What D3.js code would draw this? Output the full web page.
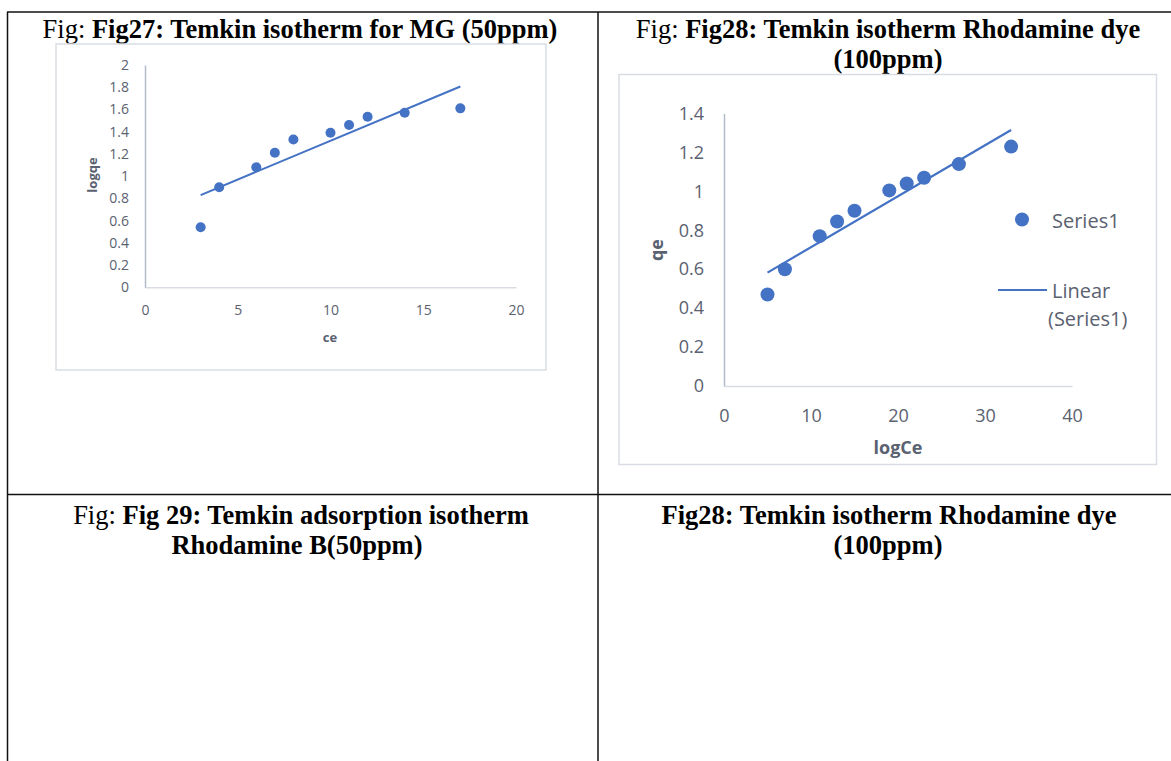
<!DOCTYPE html>
<html>
<head>
<meta charset="utf-8">
<script src="https://cdn.jsdelivr.net/npm/d3@7/dist/d3.min.js"></script>
<style>
  html, body { margin: 0; padding: 0; background: #ffffff; }
  svg { display: block; }
  .cap { font-family: "Liberation Serif", "Times New Roman", serif; font-size: 26.5px; fill: #000; }
  .cap .b { font-weight: bold; }
  .tick text { font-family: "Open Sans", Lato, sans-serif; fill: #5a6170; }
  .atitle { font-family: "Open Sans", Lato, sans-serif; font-weight: bold; fill: #5a6170; }
  .legend { font-family: "Open Sans", Lato, sans-serif; fill: #5a6170; }
</style>
</head>
<body>
<svg id="page" width="1171" height="761"></svg>
<script>
// Fig27: Temkin isotherm for MG (50ppm)
const mgCe = [3, 4, 6, 7, 8, 10, 11, 12, 14, 17];
const mgLogQe = [0.54, 0.90, 1.08, 1.21, 1.33, 1.39, 1.46, 1.535, 1.57, 1.61];
const mgXTicks = [0, 5, 10, 15, 20];
const mgYTicks = [0, 0.2, 0.4, 0.6, 0.8, 1, 1.2, 1.4, 1.6, 1.8, 2];

// Fig28: Temkin isotherm Rhodamine dye (100ppm)
const rhLogCe = [5, 7, 11, 13, 15, 19, 21, 23, 27, 33];
const rhQe = [0.47, 0.60, 0.77, 0.845, 0.90, 1.005, 1.04, 1.07, 1.14, 1.23];
const rhXTicks = [0, 10, 20, 30, 40];
const rhYTicks = [0, 0.2, 0.4, 0.6, 0.8, 1, 1.2, 1.4];

const legendLabels = ["Series1", "Linear", "(Series1)"];

const BLUE = "#4472c4";
const svg = d3.select("#page");

// ---- table grid ----
const grid = svg.append("g").attr("stroke", "#111").attr("stroke-width", 1.5).attr("fill", "none");
grid.append("line").attr("x1", 7).attr("x2", 1171).attr("y1", 12).attr("y2", 12);
grid.append("line").attr("x1", 7).attr("x2", 1171).attr("y1", 494.5).attr("y2", 494.5);
grid.append("line").attr("x1", 7.5).attr("x2", 7.5).attr("y1", 12).attr("y2", 761);
grid.append("line").attr("x1", 598).attr("x2", 598).attr("y1", 12).attr("y2", 761);

// ---- captions ----
function caption(cx, y, prefix, bold) {
  const t = svg.append("text").attr("class", "cap").attr("x", cx).attr("y", y).attr("text-anchor", "middle");
  if (prefix) t.append("tspan").text(prefix);
  t.append("tspan").attr("class", "b").text(bold);
}
caption(300, 38, "Fig: ", "Fig27: Temkin isotherm for MG (50ppm)");
caption(888, 38, "Fig: ", "Fig28: Temkin isotherm Rhodamine dye");
caption(888, 68, null, "(100ppm)");
caption(301, 524, "Fig: ", "Fig 29: Temkin adsorption isotherm");
caption(297, 554, null, "Rhodamine B(50ppm)");
caption(889, 524, null, "Fig28: Temkin isotherm Rhodamine dye");
caption(888, 554, null, "(100ppm)");

// least-squares fit used for the linear trendline
function fit(xs, ys) {
  const mx = d3.mean(xs), my = d3.mean(ys);
  let sxy = 0, sxx = 0;
  xs.forEach((x, i) => { sxy += (x - mx) * (ys[i] - my); sxx += (x - mx) * (x - mx); });
  const slope = sxy / sxx;
  return x => my + slope * (x - mx);
}

function scatter(opt) {
  const g = svg.append("g");
  // chart area frame
  g.append("rect")
    .attr("x", opt.frame[0]).attr("y", opt.frame[1])
    .attr("width", opt.frame[2] - opt.frame[0]).attr("height", opt.frame[3] - opt.frame[1])
    .attr("fill", "#fff").attr("stroke", "#d9dde3").attr("stroke-width", 1.5);

  const x = d3.scaleLinear().domain(opt.xDomain).range(opt.xRange);
  const y = d3.scaleLinear().domain(opt.yDomain).range(opt.yRange);

  const xa = g.append("g").attr("transform", `translate(0,${opt.yRange[0]})`)
    .call(d3.axisBottom(x).tickValues(opt.xTicks).tickSize(0).tickPadding(opt.xPad).tickFormat(d3.format("")));
  xa.select(".domain").attr("stroke", "#d9dde3").attr("stroke-width", 1.5);
  xa.selectAll(".tick text").attr("font-size", opt.tickFont);

  const ya = g.append("g").attr("transform", `translate(${opt.xRange[0]},0)`)
    .call(d3.axisLeft(y).tickValues(opt.yTicks).tickSize(0).tickPadding(opt.yPad).tickFormat(d3.format("")));
  ya.select(".domain").attr("stroke", "#b3bccb").attr("stroke-width", 1.5);
  ya.selectAll(".tick text").attr("font-size", opt.tickFont);

  // trendline
  const f = fit(opt.xs, opt.ys);
  const x0 = d3.min(opt.xs), x1 = d3.max(opt.xs);
  g.append("line")
    .attr("x1", x(x0)).attr("y1", y(f(x0)))
    .attr("x2", x(x1)).attr("y2", y(f(x1)))
    .attr("stroke", BLUE).attr("stroke-width", opt.lineW);

  // markers
  g.selectAll("circle.pt").data(opt.xs.map((v, i) => [v, opt.ys[i]])).join("circle")
    .attr("class", "pt")
    .attr("cx", d => x(d[0])).attr("cy", d => y(d[1])).attr("r", opt.r)
    .attr("fill", BLUE);

  // axis titles
  g.append("text").attr("class", "atitle")
    .attr("x", opt.xTitlePos[0]).attr("y", opt.xTitlePos[1])
    .attr("text-anchor", "middle").attr("dominant-baseline", "central")
    .attr("font-size", opt.titleFont).text(opt.xTitle);
  g.append("text").attr("class", "atitle")
    .attr("transform", `translate(${opt.yTitlePos[0]},${opt.yTitlePos[1]}) rotate(-90)`)
    .attr("text-anchor", "middle").attr("dominant-baseline", "central")
    .attr("font-size", opt.titleFont).text(opt.yTitle);
  return g;
}

scatter({
  frame: [56, 44, 546, 370],
  xDomain: [0, 20], xRange: [145, 516],
  yDomain: [0, 2], yRange: [287.3, 65],
  xTicks: mgXTicks, yTicks: mgYTicks,
  xPad: 18, yPad: 16, tickFont: 14,
  xs: mgCe, ys: mgLogQe, r: 5, lineW: 2,
  xTitle: "ce", xTitlePos: [330, 337],
  yTitle: "logqe", yTitlePos: [92, 175],
  titleFont: 13
});

const g2 = scatter({
  frame: [619, 74.5, 1156.5, 464.5],
  xDomain: [0, 40], xRange: [724, 1072],
  yDomain: [0, 1.4], yRange: [386, 113.5],
  xTicks: rhXTicks, yTicks: rhYTicks,
  xPad: 23, yPad: 20, tickFont: 18,
  xs: rhLogCe, ys: rhQe, r: 7, lineW: 2.2,
  xTitle: "logCe", xTitlePos: [898, 447],
  yTitle: "qe", yTitlePos: [656, 250],
  titleFont: 18
});

// legend
g2.append("circle").attr("cx", 1022).attr("cy", 219.5).attr("r", 7).attr("fill", BLUE);
g2.append("text").attr("class", "legend").attr("x", 1052).attr("y", 220)
  .attr("dominant-baseline", "central").attr("font-size", 20).text(legendLabels[0]);
g2.append("line").attr("x1", 998).attr("x2", 1047).attr("y1", 290).attr("y2", 290)
  .attr("stroke", BLUE).attr("stroke-width", 2.2);
g2.append("text").attr("class", "legend").attr("x", 1052).attr("y", 290)
  .attr("dominant-baseline", "central").attr("font-size", 20).text(legendLabels[1]);
g2.append("text").attr("class", "legend").attr("x", 1048).attr("y", 318)
  .attr("dominant-baseline", "central").attr("font-size", 20).text(legendLabels[2]);
</script>
</body>
</html>
